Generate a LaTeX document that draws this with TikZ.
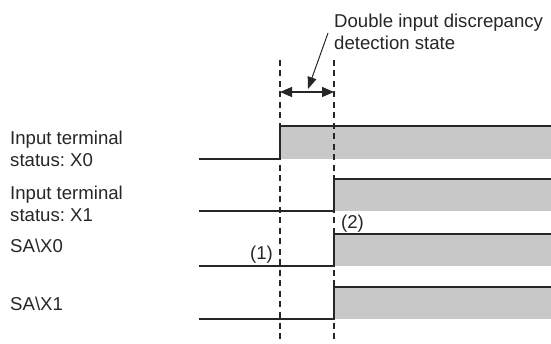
\documentclass[tikz,border=0pt]{standalone}
\usepackage{fontspec}
\setmainfont{Liberation Sans}
\usetikzlibrary{arrows.meta}
\definecolor{ink}{HTML}{262626}
\definecolor{hifill}{HTML}{C8C8C8}
\frenchspacing
\begin{document}
\begin{tikzpicture}[x=1pt,y=-1pt,
  lbl/.style={inner sep=0pt,anchor=base west,font=\fontsize{18.6}{22}\selectfont\frenchspacing,text=ink},
  wave/.style={draw=ink,line width=1.2pt,line join=miter},
  hi/.style={fill=hifill,draw=none},
  guide/.style={draw=ink,line width=1.1pt,dash pattern=on 6pt off 4.5pt},
  dimarr/.style={draw=ink,line width=1.3pt,{Triangle[length=12pt,width=10pt]}-{Triangle[length=12pt,width=10pt]}},
  leader/.style={draw=ink,line width=1pt,-{Triangle[length=12pt,width=9pt]}}]
\useasboundingbox (0,0) rectangle (551,344);
% coordinates
\coordinate (ta) at (280,60);
\coordinate (tb) at (334,60);
\coordinate (ba) at (280,342);
\coordinate (bb) at (334,342);
% fills
\fill[hi] (280,126) rectangle (551,159);
\fill[hi] (334,179) rectangle (551,211);
\fill[hi] (334,234) rectangle (551,266);
\fill[hi] (334,287) rectangle (551,319);
% guides
\draw[guide] (ta) -- (ba);
\draw[guide] (tb) -- (bb);
% waveforms
\draw[wave] (199,159) -- (280,159) -- (280,126) -- (551,126);
\draw[wave] (199,211) -- (334,211) -- (334,179) -- (551,179);
\draw[wave] (199,266) -- (334,266) -- (334,234) -- (551,234);
\draw[wave] (199,319) -- (334,319) -- (334,287) -- (551,287);
% dimension arrow
\coordinate (da) at (280,92);
\coordinate (db) at (334,92);
\draw[dimarr] (da) -- (db);
% labels
\node[lbl] (t1) at (334,28) {Double input discrepancy};
\node[lbl] (t2) at (334,50) {detection state};
\coordinate (ls) at (328,33);
\coordinate (le) at (308,89);
\draw[leader] (ls) -- (le);
\node[lbl] (a1) at (10,145) {Input terminal};
\node[lbl] (a2) at (10,167) {status: X0};
\node[lbl] (b1) at (10,200) {Input terminal};
\node[lbl] (b2) at (10,222) {status: X1};
\node[lbl] (c1) at (10,253) {SA\textbackslash X0};
\node[lbl] (d1) at (10,311) {SA\textbackslash X1};
\node[lbl,anchor=base east] (n1) at (273,260) {(1)};
\node[lbl] (n2) at (341,229) {(2)};
\end{tikzpicture}
\end{document}
